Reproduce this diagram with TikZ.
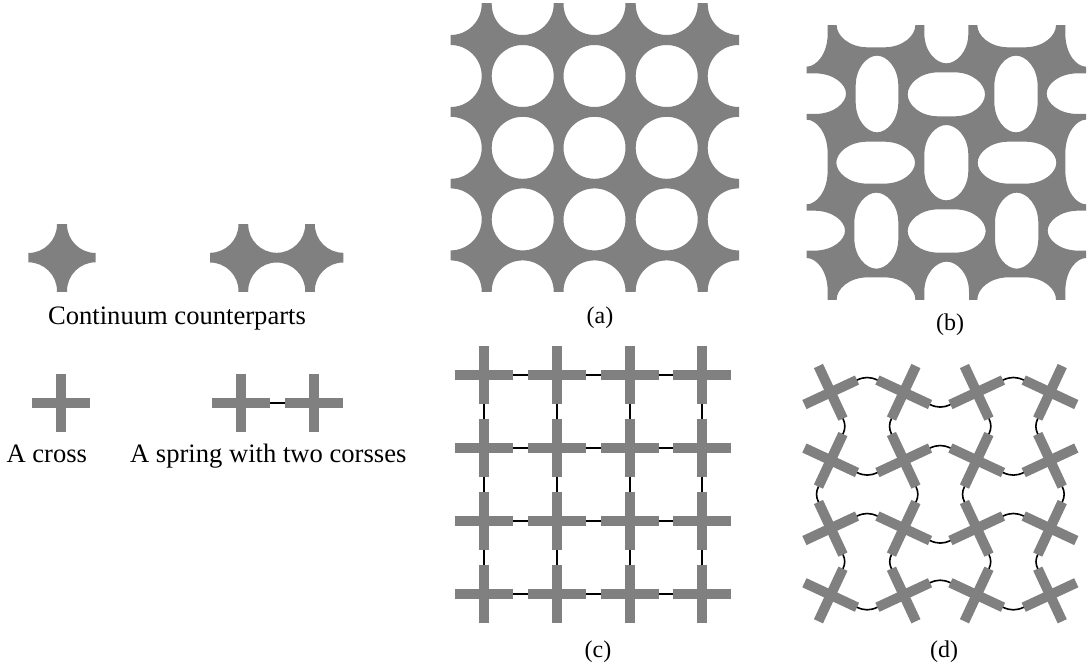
\documentclass[tikz,border=0pt]{standalone}
\usepackage{fontspec}
\setmainfont{Liberation Serif}
\definecolor{picgray}{RGB}{128,128,128}
\tikzset{
  label text/.style={anchor=base,inner sep=0pt,font=\fontsize{26.6}{32}\selectfont,text=black},
  small label/.style={label text,font=\fontsize{24}{28}\selectfont},
  springline/.style={draw=black,line width=1.6pt},
  solidpart/.style={fill=picgray,draw=none},
  cutpart/.style={fill=picgray,draw=none,even odd rule},
}
\newcommand{\crossat}[4]{% name, x, y, rotation
  \begin{scope}[shift={(#2,#3)},rotate=#4]
    \fill[solidpart] (-29,-5) rectangle (29,5);
    \fill[solidpart] (-5,-29) rectangle (5,29);
    \coordinate (#1-E) at (29,0);
    \coordinate (#1-W) at (-29,0);
    \coordinate (#1-N) at (0,-29);
    \coordinate (#1-S) at (0,29);
  \end{scope}}
\begin{document}
\begin{tikzpicture}[x=1pt,y=-1pt]
\useasboundingbox (0,0) rectangle (1090,669);

% --- continuum counterparts
\begin{scope}
  \clip (28.3,224.3) rectangle (95.7,291);
  \fill[cutpart] (-12,184) rectangle (136,331)
    foreach \x in {28.3,95.7} { foreach \y in {224.3,291} { (\x,\y) circle[radius=28.7pt] } };
\end{scope}
\begin{scope}
  \clip (210,224.3) rectangle (343.3,291);
  \fill[cutpart] (170,184) rectangle (383,331)
    foreach \x in {210,276.7,343.3} { foreach \y in {224.3,291} { (\x,\y) circle[radius=28.5pt] } };
\end{scope}
\node[label text] (t1) at (177,324) {Continuum counterparts};

% --- single cross and pair
\crossat{s0}{61}{402.7}{0}
\crossat{s1}{241}{402.7}{0}
\crossat{s2}{314}{402.7}{0}
\draw[springline] (s1-E) -- (s2-W);
\node[label text] (t2) at (46.8,462) {A cross};
\node[label text] (t3) at (268.3,462) {A spring with two corsses};

% --- (a)
\begin{scope}
  \clip (450.5,3.5) rectangle (739,291.7);
  \fill[cutpart] (410,-40) rectangle (780,335)
    foreach \x in {450.7,522.7,594.5,666.7,738.7}
      { foreach \y in {4,76,147.8,219.4,291.4} { (\x,\y) circle[radius=31pt] } };
\end{scope}
\node[small label] (la) at (600,323.5) {(a)};

% --- (b)
\begin{scope}[shift={(790,10)},x=0.33333pt,y=-0.33333pt]
  \clip (50,46) rectangle (888,868);
  \fill[cutpart] (-100,-100) rectangle (1040,1020)
  foreach \cx/\cy/\s/\l/\r in {
    261/252/64/115/0, 678/252/65/115/0, 469/458/66/113/0,
    259/662/66/114/0, 680/662/65/114/0, 469/47/66/113/0, 470/868/67/113/0,
    50/46/63/124/0, 888/46/62/124/0, 50/868/63/124/0, 888/868/62/124/0,
    50/456/63/127/0, 888/456/62/127/0,
    469/253/66/116/90, 257/458/63/118/90, 681/458/63/118/90, 470/663/65/117/90,
    50/251/61/118/90, 888/251/61/118/90, 48/662/60/117/90, 890/662/60/117/90,
    258/46/66/118/90, 680/46/66/118/90, 258/868/66/118/90, 680/868/66/118/90}
   { {[shift={(\cx,\cy)},rotate=\r]
      (0,-\l) .. controls (0.45*\s,-\l) and (\s,-0.7*\l) .. (\s,-0.2*\l)
      -- (\s,0.2*\l) .. controls (\s,0.7*\l) and (0.45*\s,\l) .. (0,\l)
      .. controls (-0.45*\s,\l) and (-\s,0.7*\l) .. (-\s,0.2*\l)
      -- (-\s,-0.2*\l) .. controls (-\s,-0.7*\l) and (-0.45*\s,-\l) .. (0,-\l) -- cycle} };
\end{scope}
\node[small label] (lb) at (950,330) {(b)};

% --- (c)
\foreach \i/\x in {0/484,1/556.7,2/629.7,3/702}
  \foreach \j/\y in {0/374.7,1/447.7,2/520.7,3/593.7}
    {\crossat{c-\i-\j}{\x}{\y}{0}}
\foreach \i [evaluate=\i as \n using int(\i+1)] in {0,1,2}
  \foreach \j in {0,1,2,3}
    {\draw[springline] (c-\i-\j-E) -- (c-\n-\j-W);
     \draw[springline] (c-\j-\i-S) -- (c-\j-\n-N);}
\node[small label] (lc) at (598,657) {(c)};

% --- (d)
\foreach \i/\x in {0/830.7,1/903.7,2/976.7,3/1050}
  \foreach \j/\y in {0/392.3,1/460.3,2/528.3,3/595}
    {\pgfmathsetmacro\rr{mod(\i+\j,2)==0 ? 25 : -25}
     \crossat{d-\i-\j}{\x}{\y}{\rr}}
\foreach \i [evaluate=\i as \n using int(\i+1)] in {0,1,2}
  \foreach \j in {0,1,2,3}
    {\pgfmathsetmacro\hb{mod(\i+\j,2)==0 ? 25 : -25}
     \pgfmathsetmacro\vb{mod(\i+\j,2)==0 ? 25 : -25}
     \draw[springline] (d-\i-\j-E) to[bend left=\hb] (d-\n-\j-W);
     \draw[springline] (d-\j-\i-S) to[bend left=\vb] (d-\j-\n-N);}
\node[small label] (ld) at (944,657) {(d)};
\end{tikzpicture}
\end{document}
